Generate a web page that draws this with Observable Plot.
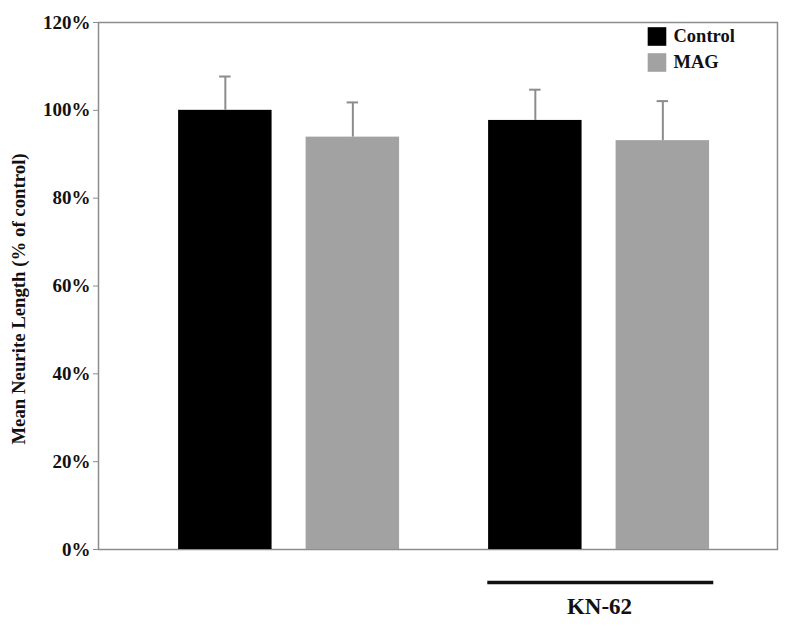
<!DOCTYPE html>
<html>
<head>
<meta charset="utf-8">
<script src="https://cdn.jsdelivr.net/npm/d3@7"></script>
<script src="https://cdn.jsdelivr.net/npm/@observablehq/plot@0.6"></script>
<style>
  html, body { margin: 0; padding: 0; background: #fff; }
  #chart { width: 800px; height: 638px; }
</style>
</head>
<body>
<div id="chart"></div>
<script>
// ---- data ----
const groups = ["", "KN-62"];            // treatment groups (first is untreated)
const series = ["Control", "MAG"];
const controlMean = [100, 97.7];          // % of control
const controlSem  = [7.7, 7.0];
const magMean     = [93.9, 93.1];
const magSem      = [7.9, 9.0];
const yTicks = [0, 20, 40, 60, 80, 100, 120];
const yLabel = "Mean Neurite Length (% of control)";
const colors = ["#000000", "#a2a2a2"];

// table built from the arrays
const rows = [];
groups.forEach((g, i) => {
  rows.push({group: g, series: series[0], mean: controlMean[i], sem: controlSem[i]});
  rows.push({group: g, series: series[1], mean: magMean[i], sem: magSem[i]});
});

const serif = "'Liberation Serif', 'Times New Roman', serif";
const frameGray = "#8c8c8c";

const chart = Plot.plot({
  width: 800,
  height: 638,
  marginLeft: 98,
  marginRight: 23,
  marginTop: 22,
  marginBottom: 89,
  style: {fontFamily: serif, fontSize: "18px", fontWeight: "bold", color: "#111", background: "#fff"},
  fx: {domain: groups, axis: null, paddingInner: 0, paddingOuter: 0.0952, align: 0, round: false},
  x: {domain: series, axis: null, paddingInner: 0.267, paddingOuter: 0.349, align: 0.9, round: false},
  y: {domain: [0, 120], axis: null},
  color: {domain: series, range: colors},
  marks: [
    Plot.frame({facet: "super", stroke: frameGray, strokeWidth: 1.5, insetRight: -59}),
    Plot.axisY({
      ticks: yTicks, tickFormat: d => d + "%", tickSize: 5, tickPadding: 3,
      stroke: frameGray, fill: "#111", fontSize: 19, fontWeight: "bold", label: null
    }),
    Plot.text([yLabel], {
      facet: "super", text: d => d, frameAnchor: "left", textAnchor: "middle", rotate: -90, dx: -80, dy: 13,
      fontSize: 18.8, fontWeight: "bold", fill: "#111"
    }),
    Plot.barY(rows, {fx: "group", x: "series", y: "mean", fill: "series"}),
    Plot.ruleX(rows, {fx: "group", x: "series", y1: "mean", y2: d => d.mean + d.sem, stroke: frameGray, strokeWidth: 2}),
    Plot.tickY(rows, {fx: "group", x: "series", y: d => d.mean + d.sem, stroke: frameGray, strokeWidth: 2, inset: 41}),
    // legend
    ...series.map((s, i) => Plot.dot([s], {
      facet: "super", fill: d => d, symbol: "square", r: 10.5, frameAnchor: "top-right", dx: -61.5, dy: 14 + i * 26
    })),
    ...series.map((s, i) => Plot.text([s], {
      facet: "super", text: d => d, frameAnchor: "top-right", textAnchor: "start", lineAnchor: "middle",
      dx: -45, dy: 14 + i * 26, fontSize: 18.5, fontWeight: "bold", fill: "#111"
    })),
    // treatment group annotation
    Plot.ruleY(groups.filter(g => g), {fx: d => d, y: () => 0, dy: 33, insetLeft: 79.3, insetRight: 4.7, stroke: "#111", strokeWidth: 3.5}),
    Plot.text(groups.filter(g => g), {fx: d => d, text: d => d, frameAnchor: "bottom", lineAnchor: "middle", dx: 36, dy: 57, fontSize: 23, fontWeight: "bold", fill: "#111"})
  ]
});
document.getElementById("chart").appendChild(chart);
</script>
</body>
</html>
